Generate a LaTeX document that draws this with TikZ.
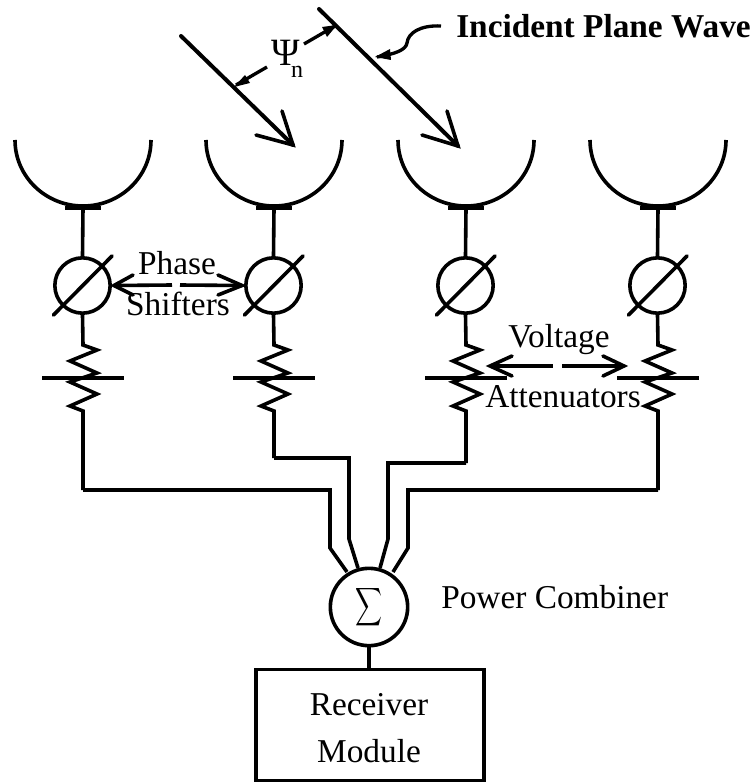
\documentclass[tikz,border=0pt]{standalone}
\usepackage{fontspec}
\usetikzlibrary{calc}
\setmainfont{Liberation Serif}
\begin{document}
\begin{tikzpicture}[x=0.75pt,y=-0.75pt,line join=miter,
  ln/.style={line width=2.7pt},
  thin ln/.style={line width=2.3pt},
  arw/.style={line width=2.5pt},
  circ/.style={draw,circle,line width=2.7pt,minimum size=41.5pt,inner sep=0pt},
  lbl/.style={font=\fontsize{25pt}{28pt}\selectfont,anchor=base,inner sep=0pt,text=black}]
\useasboundingbox (0,0) rectangle (755,784);
\fill[white] (0,0) rectangle (755,784);
% branches
\foreach \n/\x/\yy/\bl/\br in {1/83/490/42/124,2/274/458/233/315,3/466/463/425/507,4/658/490/617/699}{
  \draw[ln] (\x-68,140) arc[start angle=180,end angle=0,x radius=68,y radius=66];
  \draw[line width=3.2pt] (\x-18,208) -- (\x+18,208);
  \node[circ] (ps\n) at (\x-0.5,285.5) {};
  \coordinate (dish\n) at (\x,208);
  \coordinate (rt\n) at (\x,345);
  \coordinate (rb\n) at (\x,411);
  \coordinate (bend\n) at (\x,\yy);
  \draw[ln] (dish\n) -- (ps\n.north);
  \draw[ln,line cap=round] (\x-29.5,315) -- (\x+29,256);
  \draw[ln] (ps\n.south) -- (rt\n) -- (\x+14,350) -- (\x-13,361) -- (\x+14,373) -- (\x-13,382) -- (\x+14,394) -- (\x-13,406) -- (rb\n) -- (bend\n);
  \draw[ln] (\bl,378) -- (\br,378);
}
% combiner and receiver
\node[circ,minimum size=58pt] (sum) at (369,607) {};
\node[inner sep=0pt,xscale=1.4,yscale=2] (sigma) at (369,607) {$\displaystyle\sum$};
\node[draw,line width=2.7pt,minimum width=171pt,minimum height=83pt,inner sep=0pt] (rx) at (370,725) {};
\draw[thin ln] (sum.south) -- (rx.north -| sum.south);
\draw[ln] (bend1) -- (330,490) -- (330,548) -- (347,572);
\draw[ln] (bend2) -- (349,458) -- (349,539) -- (358,568);
\draw[ln] (bend3) -- (388,463) -- (388,539) -- (380,568);
\draw[ln] (bend4) -- (408,490) -- (408,548) -- (393,572);
% waves
\coordinate (w1a) at (181,36); \coordinate (w1b) at (293,145);
\coordinate (w2a) at (319,9);  \coordinate (w2b) at (458,146);
\draw[ln,line cap=round,line width=3pt] (w1a) -- (w1b);
\draw[ln,line cap=round,line width=3pt] (w2a) -- (w2b);
\draw[ln,line cap=round] (282,111) -- (w1b) -- (256,135);
\draw[ln,line cap=round] (447,111) -- (w2b) -- (422,135);
% spacing arrows
\coordinate (p1) at (267,67); \coordinate (p2) at (236,85);
\coordinate (p3) at (304,44); \coordinate (p4) at (335,26);
\draw[arw] (p1) -- (p2);
\fill (234,87) -- (245,75) -- (250,83) -- cycle;
\draw[arw] (p3) -- (p4);
\fill (337,25) -- (322,27) -- (327,37) -- cycle;
% curved pointer
\coordinate (c1) at (441,26); \coordinate (c2) at (377,57);
\draw[arw] (c1) .. controls (420,25) and (408,33) .. (407,43) .. controls (406,50) and (395,54) .. (c2);
\fill (375,57) -- (390,49) -- (391,60) -- cycle;
% label arrows
\coordinate (a1) at ($(ps1.east)+(2,0)$);
\coordinate (a2) at ($(ps2.west)+(-2,0)$);
\draw[ln] (a1) -- (172,285);
\draw[ln,line cap=round] (133,275) -- (a1) -- (133,295);
\draw[ln] (180,285) -- (a2);
\draw[ln,line cap=round] (218,275) -- (a2) -- (218,295);
\coordinate (v1) at (490,366); \coordinate (v2) at (624,366);
\draw[ln] (v1) -- (553,366);
\draw[ln,line cap=round] (512,356) -- (v1) -- (512,376);
\draw[ln] (562,366) -- (v2);
\draw[ln,line cap=round] (603,356) -- (v2) -- (603,376);
% text
\node[lbl] (t1) at (177,274) {Phase};
\node[lbl] (t2) at (178,315) {Shifters};
\node[lbl] (t3) at (559,347) {Voltage};
\node[lbl] (t4) at (563,407) {Attenuators};
\node[lbl,anchor=base west] (t5) at (441,608) {Power Combiner};
\node[lbl] (t6) at (369,715) {Receiver};
\node[lbl] (t7) at (369,762) {Module};
\node[lbl,anchor=base west,font=\fontsize{25pt}{28pt}\selectfont\bfseries] (t8) at (456,38) {Incident Plane Wave};
\node[lbl,font=\fontsize{29pt}{30pt}\selectfont] (t9) at (286,66) {Ψ};
\node[lbl,font=\fontsize{18pt}{20pt}\selectfont] (t10) at (297,78) {n};
\end{tikzpicture}
\end{document}
